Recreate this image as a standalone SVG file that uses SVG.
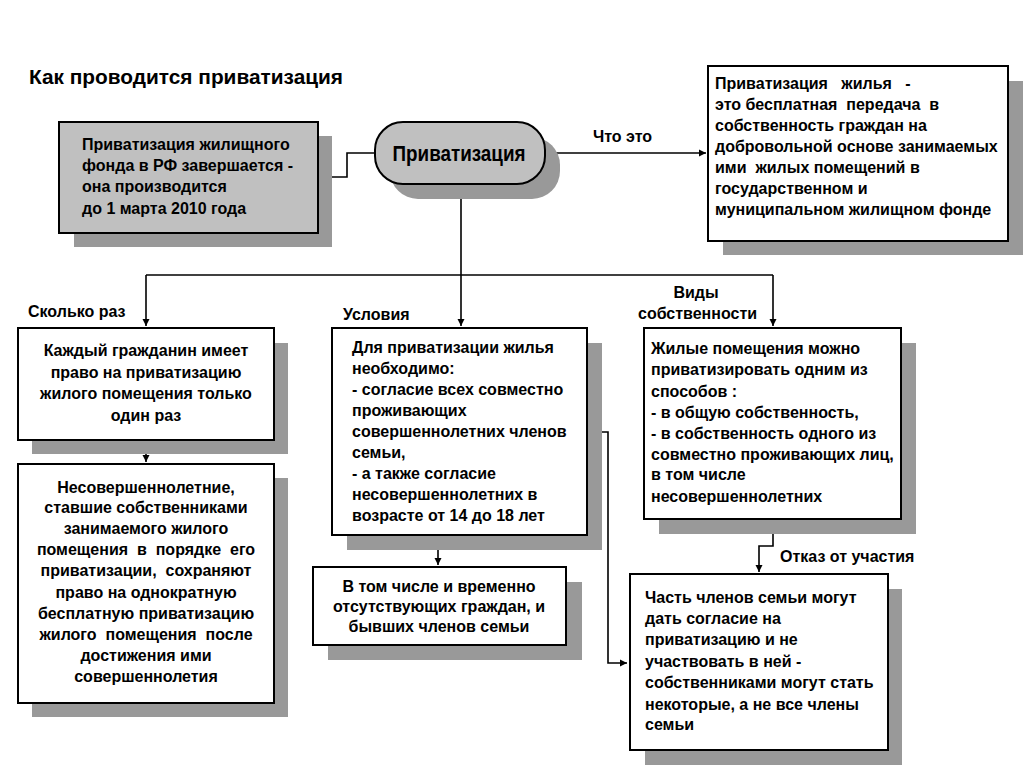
<svg xmlns="http://www.w3.org/2000/svg" width="1024" height="767" viewBox="0 0 1024 767">
<defs>
<style>
.t{font-family:"Liberation Sans",Arial,sans-serif;font-weight:bold;font-size:16px;fill:#000}
.c{text-anchor:middle}
.box{fill:#fff;stroke:#000;stroke-width:2}
.gbox{fill:#c0c0c0;stroke:#000;stroke-width:2}
.sh{fill:#999}
.ln{fill:none;stroke:#000;stroke-width:1.6}
</style>
<marker id="ar" markerWidth="8" markerHeight="8" refX="7" refY="4" orient="auto" markerUnits="userSpaceOnUse">
<path d="M0,0.5 L7,4 L0,7.5 Z" fill="#000"/>
</marker>
</defs>
<rect width="1024" height="767" fill="#fff"/>
<text class="t" x="29" y="84" style="font-size:21px" textLength="314" lengthAdjust="spacingAndGlyphs">Как проводится приватизация</text>

<g id="connectors">
<polyline class="ln" points="375,153 347,153 347,177 320,177" marker-end="url(#ar)"/>
<line class="ln" x1="545" y1="153" x2="706" y2="153" marker-end="url(#ar)"/>
<line class="ln" x1="461" y1="184" x2="461" y2="275"/>
<line class="ln" x1="146" y1="275" x2="773" y2="275"/>
<line class="ln" x1="146" y1="275" x2="146" y2="326" marker-end="url(#ar)"/>
<line class="ln" x1="461" y1="275" x2="461" y2="326" marker-end="url(#ar)"/>
<line class="ln" x1="773" y1="275" x2="773" y2="326" marker-end="url(#ar)"/>
<line class="ln" x1="146" y1="440" x2="146" y2="462" marker-end="url(#ar)"/>
<polyline class="ln" points="461,535 461,544 438,544 438,565" marker-end="url(#ar)"/>
<polyline class="ln" points="587,432 608,432 608,663 627,663" marker-end="url(#ar)"/>
<polyline class="ln" points="773,519 773,546 759,546 759,572" marker-end="url(#ar)"/>
<text class="t" x="593" y="142">Что это</text>
<text class="t" x="28" y="317">Сколько раз</text>
<text class="t" x="343" y="320">Условия</text>
<text class="t c" x="696" y="298">Виды</text>
<text class="t" x="638" y="319">собственности</text>
<text class="t" x="780" y="562">Отказ от участия</text>
</g>

<g id="n-end">
<rect class="sh" x="74" y="136" width="258" height="111"/>
<rect class="gbox" x="59" y="122" width="259" height="111"/>
<text class="t" x="82" y="150">Приватизация жилищного</text>
<text class="t" x="82" y="171">фонда в РФ завершается -</text>
<text class="t" x="82" y="192">она производится</text>
<text class="t" x="82" y="214">до 1 марта 2010 года</text>
</g>

<g id="n-main">
<rect class="sh" x="390" y="137" width="170" height="62" rx="28"/>
<rect class="gbox" x="375" y="122" width="170" height="62" rx="28"/>
<text class="t c" x="459" y="161" style="font-size:22px" textLength="133" lengthAdjust="spacingAndGlyphs">Приватизация</text>
</g>

<g id="n-def">
<rect class="sh" x="723" y="81" width="300" height="174"/>
<rect class="box" x="708" y="66" width="300" height="175"/>
<text class="t" x="715" y="89" xml:space="preserve">Приватизация   жилья   -</text>
<text class="t" x="715" y="110" xml:space="preserve">это бесплатная  передача  в</text>
<text class="t" x="715" y="131">собственность граждан на</text>
<text class="t" x="715" y="152">добровольной основе занимаемых</text>
<text class="t" x="715" y="173" xml:space="preserve">ими  жилых помещений в</text>
<text class="t" x="715" y="194">государственном и</text>
<text class="t" x="715" y="215">муниципальном жилищном фонде</text>
</g>

<g id="n-once">
<rect class="sh" x="32" y="343" width="256" height="111"/>
<rect class="box" x="18" y="328" width="256" height="112"/>
<text class="t c" x="146" y="356">Каждый гражданин имеет</text>
<text class="t c" x="146" y="378">право на приватизацию</text>
<text class="t c" x="146" y="399">жилого помещения только</text>
<text class="t c" x="146" y="421">один раз</text>
</g>

<g id="n-minors">
<rect class="sh" x="32" y="478" width="256" height="239"/>
<rect class="box" x="18" y="464" width="256" height="239"/>
<text class="t c" x="146" y="493">Несовершеннолетние,</text>
<text class="t c" x="146" y="513">ставшие собственниками</text>
<text class="t c" x="146" y="534">занимаемого жилого</text>
<text class="t c" x="146" y="555" xml:space="preserve">помещения  в  порядке  его</text>
<text class="t c" x="146" y="576" xml:space="preserve">приватизации,  сохраняют</text>
<text class="t c" x="146" y="598">право на однократную</text>
<text class="t c" x="146" y="619">бесплатную приватизацию</text>
<text class="t c" x="146" y="640" xml:space="preserve">жилого  помещения  после</text>
<text class="t c" x="146" y="661">достижения ими</text>
<text class="t c" x="146" y="682">совершеннолетия</text>
</g>

<g id="n-cond">
<rect class="sh" x="347" y="343" width="255" height="207"/>
<rect class="box" x="332" y="328" width="255" height="207"/>
<text class="t" x="352" y="353">Для приватизации жилья</text>
<text class="t" x="352" y="374">необходимо:</text>
<text class="t" x="352" y="395">- согласие всех совместно</text>
<text class="t" x="352" y="416">проживающих</text>
<text class="t" x="352" y="437">совершеннолетних членов</text>
<text class="t" x="352" y="458">семьи,</text>
<text class="t" x="352" y="479">- а также согласие</text>
<text class="t" x="352" y="500">несовершеннолетних в</text>
<text class="t" x="352" y="521">возрасте от 14 до 18 лет</text>
</g>

<g id="n-absent">
<rect class="sh" x="328" y="582" width="254" height="78"/>
<rect class="box" x="313" y="567" width="253" height="78"/>
<text class="t c" x="439" y="592">В том числе и временно</text>
<text class="t c" x="439" y="612">отсутствующих граждан, и</text>
<text class="t c" x="439" y="632">бывших членов семьи</text>
</g>

<g id="n-types">
<rect class="sh" x="659" y="343" width="257" height="191"/>
<rect class="box" x="644" y="328" width="257" height="191"/>
<text class="t" x="651" y="354">Жилые помещения можно</text>
<text class="t" x="651" y="375">приватизировать одним из</text>
<text class="t" x="651" y="397">способов :</text>
<text class="t" x="651" y="418">- в общую собственность,</text>
<text class="t" x="651" y="439">- в собственность одного из</text>
<text class="t" x="651" y="460">совместно проживающих лиц,</text>
<text class="t" x="651" y="480">в том числе</text>
<text class="t" x="651" y="502">несовершеннолетних</text>
</g>

<g id="n-refuse">
<rect class="sh" x="645" y="589" width="257" height="176"/>
<rect class="box" x="630" y="574" width="258" height="176"/>
<text class="t" x="645" y="603">Часть членов семьи могут</text>
<text class="t" x="645" y="624">дать согласие на</text>
<text class="t" x="645" y="645">приватизацию и не</text>
<text class="t" x="645" y="667">участвовать в ней -</text>
<text class="t" x="645" y="688">собственниками могут стать</text>
<text class="t" x="645" y="710">некоторые, а не все члены</text>
<text class="t" x="645" y="730">семьи</text>
</g>
</svg>
